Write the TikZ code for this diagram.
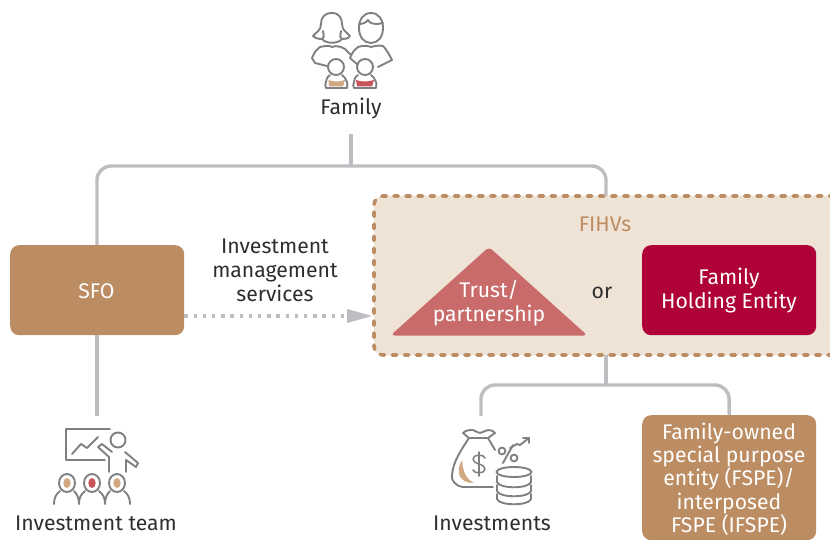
\documentclass[tikz,border=0pt]{standalone}
\usepackage{fontspec}
\setmainfont{Fira Sans}
\usetikzlibrary{arrows.meta,calc}
\definecolor{tan}{HTML}{BC8C62}
\definecolor{lighttan}{HTML}{EFE3D6}
\definecolor{crim}{HTML}{AE0238}
\definecolor{rosey}{HTML}{C96B6B}
\definecolor{lineg}{HTML}{BDBEC1}
\definecolor{icong}{HTML}{7F8083}
\definecolor{txt}{HTML}{2E2E32}
\definecolor{skin}{HTML}{D0A982}
\definecolor{redi}{HTML}{C9555C}
\tikzset{
 lbl/.style={font=\fontsize{21.2}{24}\selectfont,text=txt,align=center,inner sep=0pt},
 wlbl/.style={font=\fontsize{21.2}{24}\selectfont,text=white,align=center,inner sep=0pt},
 conn/.style={draw=lineg,line width=3.4pt,rounded corners=14pt},
 ic/.style={draw=icong,line width=1.9pt,line cap=round,line join=round},
 tanbox/.style={fill=tan,rounded corners=9pt,inner sep=0pt},
}
\begin{document}
\begin{tikzpicture}[x=1pt,y=-1pt]
\useasboundingbox (0,0) rectangle (830,540);
\clip (0,0) rectangle (830,540);
% FIHV frame
\path[fill=lighttan,rounded corners=9pt] (846,196) -- (374,196) -- (374,355) -- (846,355) -- cycle;
\draw[tan,line width=3.6pt,dash pattern=on 4.5pt off 7.6pt,line cap=round,rounded corners=9pt] (846,196) -- (374,196) -- (374,355) -- (846,355);
\coordinate (fihvtop) at (606,196);
\coordinate (fihvbot) at (606,355);
\coordinate (fihvleft) at (374,316);
\coordinate (famdrop) at (351,134);
\coordinate (famjoin) at (351,166);
% nodes
\node[tanbox,minimum width=174pt,minimum height=90pt,anchor=north west] (sfo) at (10,245) {};
\node[wlbl] at (96.5,291) {SFO};
\node[fill=crim,rounded corners=9pt,minimum width=174pt,minimum height=90pt,anchor=north west,inner sep=0pt] (holding) at (642,245) {};
\node[wlbl] at (729,290.5) {Family\\Holding Entity};
\node[tanbox,minimum width=174pt,minimum height=125pt,anchor=north west] (fspe) at (642,415) {};
\node[wlbl,font=\fontsize{21.2}{23.3}\selectfont] at (729,479) {Family-owned\\special purpose\\entity (FSPE)/\\interposed\\FSPE (IFSPE)};
\path[fill=rosey] [rounded corners=12pt] (489,247) [rounded corners=4pt] -- (390.5,335.5) -- (587.5,335.5) -- cycle;
\node[wlbl] (trust) at (489,303.5) {Trust/\\partnership};
\node[lbl,text=tan] (fihvt) at (605,224.5) {FIHVs};
\node[lbl] (ort) at (602,292.5) {or};
\node[lbl] (family) at (351,108.5) {Family};
\node[lbl] (svc) at (275,270.5) {Investment\\management\\services};
\node[lbl] (team) at (96,523.5) {Investment team};
\node[lbl] (inv) at (492,523.5) {Investments};
% connectors
\draw[conn] (famdrop) -- (famjoin);
\draw[conn] (fihvtop) -- (606,166) -- (97,166) -- (97,245);
\draw[conn] (97,335) -- (97,416);
\draw[conn] (fihvbot) -- (606,385);
\draw[conn] (481,416) -- (481,385) -- (729,385) -- (fspe.north);
\draw[lineg,line width=3.4pt,dash pattern=on 3.4pt off 5.8pt] (sfo.east |- fihvleft) -- (346,316);
\fill[lineg] (347,309) -- (372,316) -- (347,323) -- cycle;
% family icon
\fill[skin] (328.5,80) .. controls (334,82) and (339,82) .. (345,80) -- (343,86.5) -- (329,86.5) -- cycle;
\fill[redi] (356,80) .. controls (362,82) and (367,82) .. (374,80) -- (372,86.5) -- (357,86.5) -- cycle;
\begin{scope}[ic]
\draw (332,13) .. controls (324,13) and (321,18) .. (321,24) .. controls (321,31) and (316,32) .. (313,36) .. controls (316,39) and (320,39) .. (322,39) .. controls (326,44) and (338,44) .. (342,39) .. controls (345,39) and (348,39) .. (350,36) .. controls (347,32) and (342,31) .. (342,24) .. controls (342,18) and (339,13) .. (332,13);
\draw (322,39) .. controls (326,36) and (322,34) .. (323,31);
\draw (342,39) .. controls (338,36) and (342,34) .. (341,31);
\draw (327,66) -- (315,63) -- (312,58) .. controls (314,53) and (316,50) .. (320,47) .. controls (325,46) and (329,45) .. (332,47) .. controls (336,45) and (342,47) .. (345,49) -- (351,55);
\draw (371,13) .. controls (363,13) and (359,20) .. (359,28) .. controls (359,37) and (364,43) .. (371,43) .. controls (378,43) and (383,37) .. (383,28) .. controls (383,20) and (379,13) .. (371,13);
\draw (359,24) .. controls (362,24) and (366,23) .. (368,20) .. controls (369,24) and (377,25) .. (383,23);
\draw (358,65) -- (350,58) .. controls (352,53) and (354,50) .. (358,47) .. controls (365,45) and (368,46) .. (371,47) .. controls (375,46) and (379,45) .. (383,46) .. controls (386,49) and (389,54) .. (392,60) -- (378,67);
\draw (336,67) circle[radius=8];
\draw (365,67) circle[radius=8];
\draw (330,75) .. controls (327,77) and (326,80) .. (326,82) .. controls (325,84) and (325,86) .. (326,88) -- (347,88) .. controls (348,85) and (347,83) .. (347,82) .. controls (346,79) and (344,76) .. (342,75);
\draw (358,75) .. controls (355,77) and (354,80) .. (354,82) .. controls (353,84) and (353,86) .. (354,88) -- (376,88) .. controls (377,85) and (376,83) .. (376,82) .. controls (375,79) and (373,76) .. (371,75);
\end{scope}
% team icon
\begin{scope}[ic]
\draw (110,429) -- (66,429) -- (66,460) -- (105,460);
\draw (72,454) -- (81,444) -- (87,448) -- (98,437);
\draw (118,440) circle[radius=7.5];
\draw (112,452) -- (102,444) -- (98,447) -- (109,457) -- (109,472);
\draw (125,452) -- (138,463) -- (136,467) -- (126,460) -- (126,472);
\draw (67,483) ellipse[x radius=8,y radius=9];
\draw (92,483) ellipse[x radius=8,y radius=9];
\draw (117,483) ellipse[x radius=8,y radius=9];
\draw (54,504) .. controls (54,498) and (56,494) .. (60,491);
\draw (79,504) .. controls (79,498) and (77,494) .. (74,491) (79,504) .. controls (79,498) and (81,494) .. (85,491);
\draw (105,504) .. controls (105,498) and (103,494) .. (99,491) (105,504) .. controls (105,498) and (107,494) .. (110,491);
\draw (130,504) .. controls (130,498) and (128,494) .. (124,491);
\end{scope}
\fill[skin] (67,483) ellipse[x radius=3.7,y radius=5];
\fill[redi] (92,483) ellipse[x radius=3.7,y radius=5];
\fill[skin] (117,483) ellipse[x radius=3.7,y radius=5];
% investments icon
\fill[skin] (462,460) .. controls (455,472) and (459,483) .. (474,483) .. controls (466,479) and (463,472) .. (462,460);
\begin{scope}[ic]
\draw (493,487) -- (463,487) .. controls (455,486) and (451,480) .. (452,475) .. controls (453,462) and (461,450) .. (469,438);
\draw (488,438) -- (495,450);
\draw (469,438) -- (463,433) .. controls (466,430) and (470,430) .. (473,430) .. controls (476,431) and (478,433) .. (480,433) .. controls (483,433) and (485,430) .. (488,430) .. controls (491,430) and (494,431) .. (495,433) -- (488,438) -- (469,438);
\draw[line width=1.5pt] (485,458) .. controls (484,454) and (473,454) .. (473,459) .. controls (473,465) and (485,463) .. (485,469) .. controls (485,474) and (474,474) .. (473,470);
\draw[line width=1.5pt] (479,452) -- (479,476);
\draw (513,445) -- (503,463);
\draw (502,451) circle[radius=3.4];
\draw (514,458) circle[radius=3.4];
\draw (510,448) -- (517,444) -- (520,445) -- (529,438) (523,438) -- (529,438) -- (529,443);
\draw (514,472) ellipse[x radius=17.5,y radius=5];
\draw (497,476) -- (497,482) .. controls (499,489) and (529,489) .. (531,482) -- (531,476);
\draw (497,485) -- (497,491) .. controls (499,498) and (529,498) .. (531,491) -- (531,485);
\draw (497,494) -- (497,499) .. controls (499,506) and (529,506) .. (531,499) -- (531,494);
\end{scope}
\end{tikzpicture}
\end{document}
